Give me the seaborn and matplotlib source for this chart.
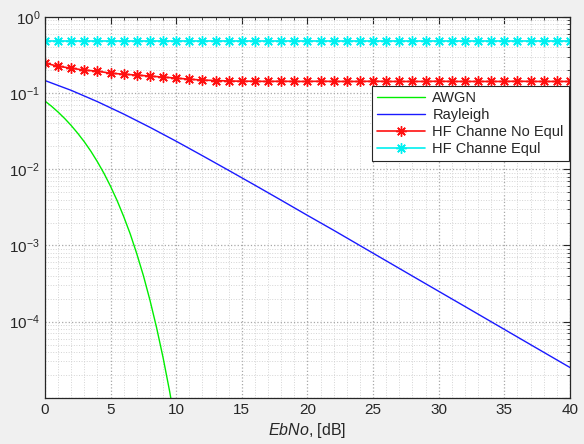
import matplotlib
matplotlib.use("Agg")
from matplotlib import pyplot as plt
from matplotlib.ticker import LogLocator, FixedLocator, FixedFormatter, MultipleLocator, NullFormatter
import seaborn as sns
import pandas as pd
import numpy as np

# AWGN (BPSK) values, 0.5 dB steps
awgn_snr = [0, 0.5, 1, 1.5, 2, 2.5, 3, 3.5, 4, 4.5, 5, 5.5, 6, 6.5, 7, 7.5, 8, 8.5, 9, 9.5, 10]
awgn_ber = [0.0786, 0.0671, 0.0563, 0.0464, 0.0375, 0.0296, 0.0229, 0.0172, 0.0125, 0.00881,
            0.00595, 0.00387, 0.00239, 0.00141, 0.000773, 0.000401, 0.000191, 8.4e-5, 3.36e-5,
            1.21e-5, 3.87e-6]

# Rayleigh values, 2 dB steps
ray_snr = [0, 2, 4, 6, 8, 10, 12, 14, 16, 18, 20, 22, 24, 26, 28, 30, 32, 34, 36, 38, 40]
ray_ber = [0.146, 0.1085, 0.0771, 0.0530, 0.0355, 0.0233, 0.01505, 0.00966, 0.00617, 0.00392,
           0.00248, 0.00158, 0.000996, 0.000628, 0.000396, 0.00025, 0.000158, 9.96e-5,
           6.28e-5, 3.96e-5, 2.5e-5]

# HF channel curves, 1 dB steps
hf_snr = list(range(0, 41))
hf_noeq_ber = [0.247, 0.225, 0.212, 0.200, 0.194, 0.182, 0.177, 0.172, 0.167, 0.162,
               0.157, 0.152, 0.148, 0.146, 0.144, 0.143, 0.143, 0.142, 0.143, 0.142,
               0.142, 0.143, 0.142, 0.142, 0.142, 0.143, 0.142, 0.142, 0.142, 0.142,
               0.143, 0.142, 0.142, 0.142, 0.142, 0.142, 0.143, 0.142, 0.142, 0.142, 0.142]
hf_eq_ber = [0.48, 0.48, 0.48, 0.48, 0.48, 0.48, 0.48, 0.48, 0.48, 0.48,
             0.48, 0.48, 0.48, 0.48, 0.48, 0.48, 0.48, 0.48, 0.48, 0.48,
             0.48, 0.48, 0.48, 0.48, 0.48, 0.48, 0.48, 0.48, 0.48, 0.48,
             0.48, 0.48, 0.48, 0.48, 0.48, 0.48, 0.48, 0.48, 0.48, 0.48, 0.48]

labels = ["AWGN", "Rayleigh", "HF Channe No Equl", "HF Channe Equl"]

sns.set_style("white")
plt.rcParams['font.family'] = ['Liberation Sans', 'DejaVu Sans']
plt.rcParams['mathtext.fontset'] = 'custom'
plt.rcParams['mathtext.rm'] = 'Liberation Sans'
plt.rcParams['mathtext.it'] = 'Liberation Sans:italic'

fig = plt.figure(figsize=(5.84, 4.44), dpi=100, facecolor='#f0f0f0')
ax = fig.add_axes([0.077, 0.104, 0.899, 0.858])
ax.set_facecolor('white')

df_awgn = pd.DataFrame({"snr": awgn_snr, "ber": awgn_ber})
df_ray = pd.DataFrame({"snr": ray_snr, "ber": ray_ber})
df_noeq = pd.DataFrame({"snr": hf_snr, "ber": hf_noeq_ber})
df_eq = pd.DataFrame({"snr": hf_snr, "ber": hf_eq_ber})

star = (8, 2, 0)  # asterisk like MATLAB '*'
sns.lineplot(data=df_awgn, x="snr", y="ber", color='#00ee00', lw=1.0, ax=ax, label=labels[0])
sns.lineplot(data=df_ray, x="snr", y="ber", color='#1a1aff', lw=1.0, ax=ax, label=labels[1])
sns.lineplot(data=df_noeq, x="snr", y="ber", color='#ff1010', lw=1.2, marker=star, ms=7.5,
             mec='#ff1010', mew=1.0, ax=ax, label=labels[2])
sns.lineplot(data=df_eq, x="snr", y="ber", color='#00f0f0', lw=1.2, marker=star, ms=7.5,
             mec='#00f0f0', mew=1.0, ax=ax, label=labels[3])

ax.set_yscale('log')
ax.set_xlim(0, 40)
ax.set_ylim(1e-5, 1)

ax.xaxis.set_major_locator(MultipleLocator(5))
ax.xaxis.set_minor_locator(MultipleLocator(1))
ax.yaxis.set_major_locator(FixedLocator([1, 1e-1, 1e-2, 1e-3, 1e-4, 1e-5]))
ax.yaxis.set_major_formatter(FixedFormatter([r'$10^{0}$', r'$10^{-1}$', r'$10^{-2}$',
                                             r'$10^{-3}$', r'$10^{-4}$', '']))
ax.yaxis.set_minor_locator(LogLocator(base=10, subs=np.arange(2, 10), numticks=20))
ax.yaxis.set_minor_formatter(NullFormatter())

ax.grid(True, which='major', color='#a8a8a8', ls=':', lw=0.9)
ax.grid(True, which='minor', color='#d4d4d4', ls=':', lw=0.7)
ax.set_axisbelow(True)

ax.tick_params(which='both', direction='in', top=True, right=True, labelsize=11, colors='#262626')
ax.tick_params(which='major', length=5, width=0.8)
ax.tick_params(which='minor', length=2.5, width=0.6)
for s in ax.spines.values():
    s.set_color('#262626')
    s.set_linewidth(0.9)

ax.set_xlabel(r'$\mathit{EbNo}$, [dB]', fontsize=11.5, labelpad=3)
ax.set_ylabel('')

leg = ax.legend(loc='upper right', bbox_to_anchor=(0.998, 0.819), borderaxespad=0,
                fontsize=10.5, frameon=True, fancybox=False, edgecolor='#262626', framealpha=1,
                handlelength=3.3, borderpad=0.35, labelspacing=0.2, handletextpad=0.5)
leg.get_frame().set_linewidth(0.8)

plt.savefig('out.png', dpi=100, facecolor=fig.get_facecolor())
plt.close("all")
